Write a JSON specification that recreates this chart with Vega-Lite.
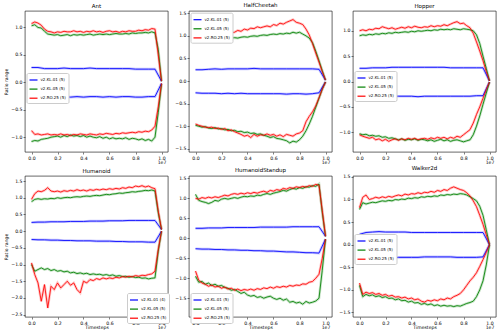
{
"$schema":"https://vega.github.io/schema/vega-lite/v6.json",
"background":"#ffffff",
"padding":{"left":3,"top":2,"right":2,"bottom":2},
"config":{
 "font":"DejaVu Sans",
 "view":{"stroke":"#000000","strokeWidth":0.6},
 "axis":{"labelFontSize":4.6,"labelFont":"DejaVu Sans","titleFont":"DejaVu Sans","titleFontSize":4.6,"titleFontWeight":"normal","tickSize":2,"tickWidth":0.5,"tickColor":"#000000","domain":false,"grid":false,"labelColor":"#000000","titleColor":"#000000","labelPadding":1,"titlePadding":2,"labelLineHeight":4.8},
 "legend":{"labelFontSize":4,"labelFont":"DejaVu Sans","labelColor":"#000000","symbolType":"stroke","symbolSize":64,"symbolStrokeWidth":1.2,"symbolOpacity":1,"rowPadding":1.1,"padding":2,"strokeColor":"#cccccc","fillColor":"#ffffff","cornerRadius":1.5,"labelOffset":2},
 "title":{"fontSize":5.5,"fontWeight":"normal","font":"DejaVu Sans","offset":2,"color":"#000000"},
 "line":{"interpolate":"linear"}
},
"datasets":{
"Ant":[
{"s":"KL.01","x":0,"u":0.27,"l":-0.27},{"s":"KL.01","x":0.05,"u":0.27,"l":-0.28},{"s":"KL.01","x":0.1,"u":0.25,"l":-0.27},{"s":"KL.01","x":0.15,"u":0.25,"l":-0.27},{"s":"KL.01","x":0.2,"u":0.25,"l":-0.27},{"s":"KL.01","x":0.25,"u":0.26,"l":-0.26},{"s":"KL.01","x":0.3,"u":0.25,"l":-0.27},{"s":"KL.01","x":0.35,"u":0.25,"l":-0.26},{"s":"KL.01","x":0.4,"u":0.25,"l":-0.27},{"s":"KL.01","x":0.45,"u":0.26,"l":-0.26},{"s":"KL.01","x":0.5,"u":0.25,"l":-0.26},{"s":"KL.01","x":0.55,"u":0.25,"l":-0.27},{"s":"KL.01","x":0.6,"u":0.25,"l":-0.26},{"s":"KL.01","x":0.65,"u":0.25,"l":-0.27},{"s":"KL.01","x":0.7,"u":0.25,"l":-0.26},{"s":"KL.01","x":0.75,"u":0.25,"l":-0.26},{"s":"KL.01","x":0.8,"u":0.24,"l":-0.27},{"s":"KL.01","x":0.85,"u":0.24,"l":-0.27},{"s":"KL.01","x":0.9,"u":0.24,"l":-0.26},{"s":"KL.01","x":0.95,"u":0.24,"l":-0.26},{"s":"KL.01","x":1,"u":0.02,"l":-0.02},
{"s":"KL.05","x":0,"u":1.03,"l":-1.08},{"s":"KL.05","x":0.025,"u":1.05,"l":-1.06},{"s":"KL.05","x":0.05,"u":1.0,"l":-1.07},{"s":"KL.05","x":0.075,"u":0.99,"l":-1.04},{"s":"KL.05","x":0.1,"u":0.93,"l":-1.03},{"s":"KL.05","x":0.125,"u":0.88,"l":-1.02},{"s":"KL.05","x":0.15,"u":0.87,"l":-1.0},{"s":"KL.05","x":0.175,"u":0.86,"l":-0.99},{"s":"KL.05","x":0.2,"u":0.87,"l":-0.98},{"s":"KL.05","x":0.225,"u":0.85,"l":-1.0},{"s":"KL.05","x":0.25,"u":0.86,"l":-0.97},{"s":"KL.05","x":0.275,"u":0.87,"l":-0.99},{"s":"KL.05","x":0.3,"u":0.85,"l":-0.96},{"s":"KL.05","x":0.325,"u":0.87,"l":-0.98},{"s":"KL.05","x":0.35,"u":0.86,"l":-0.97},{"s":"KL.05","x":0.375,"u":0.87,"l":-0.99},{"s":"KL.05","x":0.4,"u":0.86,"l":-0.97},{"s":"KL.05","x":0.425,"u":0.87,"l":-1.0},{"s":"KL.05","x":0.45,"u":0.88,"l":-0.98},{"s":"KL.05","x":0.475,"u":0.86,"l":-1.0},{"s":"KL.05","x":0.5,"u":0.87,"l":-1.01},{"s":"KL.05","x":0.525,"u":0.88,"l":-0.99},{"s":"KL.05","x":0.55,"u":0.87,"l":-1.02},{"s":"KL.05","x":0.575,"u":0.88,"l":-1.0},{"s":"KL.05","x":0.6,"u":0.87,"l":-1.03},{"s":"KL.05","x":0.625,"u":0.88,"l":-1.01},{"s":"KL.05","x":0.65,"u":0.89,"l":-1.03},{"s":"KL.05","x":0.675,"u":0.88,"l":-1.02},{"s":"KL.05","x":0.7,"u":0.88,"l":-1.03},{"s":"KL.05","x":0.725,"u":0.89,"l":-1.01},{"s":"KL.05","x":0.75,"u":0.88,"l":-1.04},{"s":"KL.05","x":0.775,"u":0.9,"l":-1.02},{"s":"KL.05","x":0.8,"u":0.89,"l":-1.03},{"s":"KL.05","x":0.825,"u":0.9,"l":-1.05},{"s":"KL.05","x":0.85,"u":0.9,"l":-1.03},{"s":"KL.05","x":0.875,"u":0.91,"l":-1.06},{"s":"KL.05","x":0.9,"u":0.9,"l":-1.04},{"s":"KL.05","x":0.925,"u":0.92,"l":-1.07},{"s":"KL.05","x":0.95,"u":0.9,"l":-1.0},{"s":"KL.05","x":0.975,"u":0.6,"l":-0.55},{"s":"KL.05","x":1,"u":0.02,"l":-0.03},
{"s":"RO.25","x":0,"u":1.07,"l":-0.88},{"s":"RO.25","x":0.025,"u":1.1,"l":-0.95},{"s":"RO.25","x":0.05,"u":1.08,"l":-0.94},{"s":"RO.25","x":0.075,"u":1.04,"l":-0.96},{"s":"RO.25","x":0.1,"u":0.97,"l":-0.95},{"s":"RO.25","x":0.125,"u":0.93,"l":-0.94},{"s":"RO.25","x":0.15,"u":0.92,"l":-0.96},{"s":"RO.25","x":0.175,"u":0.9,"l":-0.95},{"s":"RO.25","x":0.2,"u":0.92,"l":-0.96},{"s":"RO.25","x":0.225,"u":0.91,"l":-0.94},{"s":"RO.25","x":0.25,"u":0.93,"l":-0.96},{"s":"RO.25","x":0.275,"u":0.92,"l":-0.95},{"s":"RO.25","x":0.3,"u":0.92,"l":-0.97},{"s":"RO.25","x":0.325,"u":0.94,"l":-0.95},{"s":"RO.25","x":0.35,"u":0.92,"l":-0.96},{"s":"RO.25","x":0.375,"u":0.93,"l":-0.94},{"s":"RO.25","x":0.4,"u":0.91,"l":-0.95},{"s":"RO.25","x":0.425,"u":0.93,"l":-0.96},{"s":"RO.25","x":0.45,"u":0.92,"l":-0.94},{"s":"RO.25","x":0.475,"u":0.94,"l":-0.95},{"s":"RO.25","x":0.5,"u":0.92,"l":-0.96},{"s":"RO.25","x":0.525,"u":0.93,"l":-0.94},{"s":"RO.25","x":0.55,"u":0.91,"l":-0.95},{"s":"RO.25","x":0.575,"u":0.93,"l":-0.93},{"s":"RO.25","x":0.6,"u":0.94,"l":-0.94},{"s":"RO.25","x":0.625,"u":0.92,"l":-0.95},{"s":"RO.25","x":0.65,"u":0.93,"l":-0.93},{"s":"RO.25","x":0.675,"u":0.91,"l":-0.94},{"s":"RO.25","x":0.7,"u":0.93,"l":-0.92},{"s":"RO.25","x":0.725,"u":0.92,"l":-0.93},{"s":"RO.25","x":0.75,"u":0.94,"l":-0.92},{"s":"RO.25","x":0.775,"u":0.93,"l":-0.91},{"s":"RO.25","x":0.8,"u":0.93,"l":-0.92},{"s":"RO.25","x":0.825,"u":0.95,"l":-0.9},{"s":"RO.25","x":0.85,"u":0.94,"l":-0.91},{"s":"RO.25","x":0.875,"u":0.96,"l":-0.89},{"s":"RO.25","x":0.9,"u":0.95,"l":-0.9},{"s":"RO.25","x":0.925,"u":0.98,"l":-0.87},{"s":"RO.25","x":0.95,"u":0.97,"l":-0.8},{"s":"RO.25","x":0.975,"u":0.5,"l":-0.45},{"s":"RO.25","x":1,"u":0.02,"l":-0.02}
],
"HalfCheetah":[
{"s":"KL.01","x":0,"u":0.25,"l":-0.26},{"s":"KL.01","x":0.05,"u":0.25,"l":-0.27},{"s":"KL.01","x":0.1,"u":0.26,"l":-0.27},{"s":"KL.01","x":0.15,"u":0.27,"l":-0.27},{"s":"KL.01","x":0.2,"u":0.26,"l":-0.28},{"s":"KL.01","x":0.25,"u":0.27,"l":-0.27},{"s":"KL.01","x":0.3,"u":0.27,"l":-0.28},{"s":"KL.01","x":0.35,"u":0.27,"l":-0.27},{"s":"KL.01","x":0.4,"u":0.27,"l":-0.28},{"s":"KL.01","x":0.45,"u":0.28,"l":-0.28},{"s":"KL.01","x":0.5,"u":0.27,"l":-0.28},{"s":"KL.01","x":0.55,"u":0.27,"l":-0.28},{"s":"KL.01","x":0.6,"u":0.27,"l":-0.28},{"s":"KL.01","x":0.65,"u":0.27,"l":-0.28},{"s":"KL.01","x":0.7,"u":0.27,"l":-0.29},{"s":"KL.01","x":0.75,"u":0.27,"l":-0.28},{"s":"KL.01","x":0.8,"u":0.27,"l":-0.28},{"s":"KL.01","x":0.85,"u":0.27,"l":-0.29},{"s":"KL.01","x":0.9,"u":0.27,"l":-0.28},{"s":"KL.01","x":0.95,"u":0.26,"l":-0.26},{"s":"KL.01","x":1,"u":0.02,"l":-0.02},
{"s":"KL.05","x":0,"u":0.88,"l":-0.98},{"s":"KL.05","x":0.025,"u":0.89,"l":-1.0},{"s":"KL.05","x":0.05,"u":0.88,"l":-1.02},{"s":"KL.05","x":0.075,"u":0.9,"l":-1.01},{"s":"KL.05","x":0.1,"u":0.9,"l":-1.04},{"s":"KL.05","x":0.125,"u":0.91,"l":-1.05},{"s":"KL.05","x":0.15,"u":0.92,"l":-1.03},{"s":"KL.05","x":0.175,"u":0.91,"l":-1.06},{"s":"KL.05","x":0.2,"u":0.93,"l":-1.05},{"s":"KL.05","x":0.225,"u":0.94,"l":-1.08},{"s":"KL.05","x":0.25,"u":0.93,"l":-1.07},{"s":"KL.05","x":0.275,"u":0.95,"l":-1.1},{"s":"KL.05","x":0.3,"u":0.96,"l":-1.09},{"s":"KL.05","x":0.325,"u":0.95,"l":-1.12},{"s":"KL.05","x":0.35,"u":0.97,"l":-1.11},{"s":"KL.05","x":0.375,"u":0.98,"l":-1.14},{"s":"KL.05","x":0.4,"u":0.97,"l":-1.13},{"s":"KL.05","x":0.425,"u":0.99,"l":-1.16},{"s":"KL.05","x":0.45,"u":1.0,"l":-1.15},{"s":"KL.05","x":0.475,"u":0.99,"l":-1.18},{"s":"KL.05","x":0.5,"u":1.01,"l":-1.17},{"s":"KL.05","x":0.525,"u":1.02,"l":-1.2},{"s":"KL.05","x":0.55,"u":1.01,"l":-1.22},{"s":"KL.05","x":0.575,"u":1.03,"l":-1.25},{"s":"KL.05","x":0.6,"u":1.04,"l":-1.23},{"s":"KL.05","x":0.625,"u":1.03,"l":-1.27},{"s":"KL.05","x":0.65,"u":1.05,"l":-1.28},{"s":"KL.05","x":0.675,"u":1.04,"l":-1.3},{"s":"KL.05","x":0.7,"u":1.06,"l":-1.32},{"s":"KL.05","x":0.725,"u":1.05,"l":-1.37},{"s":"KL.05","x":0.75,"u":1.08,"l":-1.33},{"s":"KL.05","x":0.775,"u":1.06,"l":-1.35},{"s":"KL.05","x":0.8,"u":1.08,"l":-1.3},{"s":"KL.05","x":0.825,"u":1.04,"l":-1.22},{"s":"KL.05","x":0.85,"u":1.0,"l":-1.1},{"s":"KL.05","x":0.875,"u":0.95,"l":-0.95},{"s":"KL.05","x":0.9,"u":0.85,"l":-0.78},{"s":"KL.05","x":0.925,"u":0.66,"l":-0.58},{"s":"KL.05","x":0.95,"u":0.45,"l":-0.38},{"s":"KL.05","x":0.975,"u":0.23,"l":-0.18},{"s":"KL.05","x":1,"u":0.02,"l":-0.02},
{"s":"RO.25","x":0,"u":0.93,"l":-0.95},{"s":"RO.25","x":0.025,"u":0.92,"l":-0.98},{"s":"RO.25","x":0.05,"u":0.94,"l":-1.0},{"s":"RO.25","x":0.075,"u":0.93,"l":-1.02},{"s":"RO.25","x":0.1,"u":0.96,"l":-1.03},{"s":"RO.25","x":0.125,"u":0.95,"l":-1.02},{"s":"RO.25","x":0.15,"u":0.97,"l":-1.05},{"s":"RO.25","x":0.175,"u":0.99,"l":-1.04},{"s":"RO.25","x":0.2,"u":1.0,"l":-1.07},{"s":"RO.25","x":0.225,"u":1.03,"l":-1.05},{"s":"RO.25","x":0.25,"u":1.05,"l":-1.1},{"s":"RO.25","x":0.275,"u":1.07,"l":-1.08},{"s":"RO.25","x":0.3,"u":1.08,"l":-1.12},{"s":"RO.25","x":0.325,"u":1.12,"l":-1.15},{"s":"RO.25","x":0.35,"u":1.1,"l":-1.18},{"s":"RO.25","x":0.375,"u":1.15,"l":-1.22},{"s":"RO.25","x":0.4,"u":1.13,"l":-1.2},{"s":"RO.25","x":0.425,"u":1.17,"l":-1.25},{"s":"RO.25","x":0.45,"u":1.16,"l":-1.18},{"s":"RO.25","x":0.475,"u":1.2,"l":-1.22},{"s":"RO.25","x":0.5,"u":1.18,"l":-1.19},{"s":"RO.25","x":0.525,"u":1.2,"l":-1.2},{"s":"RO.25","x":0.55,"u":1.22,"l":-1.17},{"s":"RO.25","x":0.575,"u":1.2,"l":-1.2},{"s":"RO.25","x":0.6,"u":1.25,"l":-1.18},{"s":"RO.25","x":0.625,"u":1.23,"l":-1.22},{"s":"RO.25","x":0.65,"u":1.28,"l":-1.19},{"s":"RO.25","x":0.675,"u":1.26,"l":-1.23},{"s":"RO.25","x":0.7,"u":1.3,"l":-1.18},{"s":"RO.25","x":0.725,"u":1.33,"l":-1.2},{"s":"RO.25","x":0.75,"u":1.36,"l":-1.22},{"s":"RO.25","x":0.775,"u":1.3,"l":-1.17},{"s":"RO.25","x":0.8,"u":1.28,"l":-1.15},{"s":"RO.25","x":0.825,"u":1.25,"l":-1.1},{"s":"RO.25","x":0.85,"u":1.15,"l":-0.9},{"s":"RO.25","x":0.875,"u":1.02,"l":-0.78},{"s":"RO.25","x":0.9,"u":0.83,"l":-0.68},{"s":"RO.25","x":0.925,"u":0.62,"l":-0.55},{"s":"RO.25","x":0.95,"u":0.42,"l":-0.37},{"s":"RO.25","x":0.975,"u":0.21,"l":-0.18},{"s":"RO.25","x":1,"u":0.02,"l":-0.02}
],
"Hopper":[
{"s":"KL.01","x":0,"u":0.26,"l":-0.27},{"s":"KL.01","x":0.05,"u":0.26,"l":-0.28},{"s":"KL.01","x":0.1,"u":0.27,"l":-0.28},{"s":"KL.01","x":0.15,"u":0.27,"l":-0.28},{"s":"KL.01","x":0.2,"u":0.27,"l":-0.29},{"s":"KL.01","x":0.25,"u":0.28,"l":-0.29},{"s":"KL.01","x":0.3,"u":0.28,"l":-0.29},{"s":"KL.01","x":0.35,"u":0.28,"l":-0.29},{"s":"KL.01","x":0.4,"u":0.28,"l":-0.29},{"s":"KL.01","x":0.45,"u":0.28,"l":-0.3},{"s":"KL.01","x":0.5,"u":0.28,"l":-0.29},{"s":"KL.01","x":0.55,"u":0.28,"l":-0.29},{"s":"KL.01","x":0.6,"u":0.28,"l":-0.29},{"s":"KL.01","x":0.65,"u":0.28,"l":-0.29},{"s":"KL.01","x":0.7,"u":0.27,"l":-0.29},{"s":"KL.01","x":0.75,"u":0.27,"l":-0.29},{"s":"KL.01","x":0.8,"u":0.27,"l":-0.29},{"s":"KL.01","x":0.85,"u":0.27,"l":-0.29},{"s":"KL.01","x":0.9,"u":0.27,"l":-0.28},{"s":"KL.01","x":0.95,"u":0.27,"l":-0.28},{"s":"KL.01","x":1,"u":0.01,"l":-0.01},
{"s":"KL.05","x":0,"u":0.9,"l":-1.03},{"s":"KL.05","x":0.025,"u":0.92,"l":-1.05},{"s":"KL.05","x":0.05,"u":0.91,"l":-1.04},{"s":"KL.05","x":0.075,"u":0.93,"l":-1.07},{"s":"KL.05","x":0.1,"u":0.92,"l":-1.06},{"s":"KL.05","x":0.125,"u":0.94,"l":-1.08},{"s":"KL.05","x":0.15,"u":0.93,"l":-1.07},{"s":"KL.05","x":0.175,"u":0.95,"l":-1.1},{"s":"KL.05","x":0.2,"u":0.94,"l":-1.09},{"s":"KL.05","x":0.225,"u":0.96,"l":-1.12},{"s":"KL.05","x":0.25,"u":0.95,"l":-1.11},{"s":"KL.05","x":0.275,"u":0.97,"l":-1.13},{"s":"KL.05","x":0.3,"u":0.96,"l":-1.15},{"s":"KL.05","x":0.325,"u":0.97,"l":-1.13},{"s":"KL.05","x":0.35,"u":0.98,"l":-1.16},{"s":"KL.05","x":0.375,"u":0.97,"l":-1.14},{"s":"KL.05","x":0.4,"u":0.99,"l":-1.15},{"s":"KL.05","x":0.425,"u":0.98,"l":-1.13},{"s":"KL.05","x":0.45,"u":1.0,"l":-1.16},{"s":"KL.05","x":0.475,"u":0.99,"l":-1.14},{"s":"KL.05","x":0.5,"u":1.0,"l":-1.15},{"s":"KL.05","x":0.525,"u":1.01,"l":-1.17},{"s":"KL.05","x":0.55,"u":1.0,"l":-1.15},{"s":"KL.05","x":0.575,"u":1.02,"l":-1.18},{"s":"KL.05","x":0.6,"u":1.01,"l":-1.16},{"s":"KL.05","x":0.625,"u":1.03,"l":-1.14},{"s":"KL.05","x":0.65,"u":1.02,"l":-1.17},{"s":"KL.05","x":0.675,"u":1.03,"l":-1.15},{"s":"KL.05","x":0.7,"u":1.02,"l":-1.18},{"s":"KL.05","x":0.725,"u":1.04,"l":-1.16},{"s":"KL.05","x":0.75,"u":1.03,"l":-1.15},{"s":"KL.05","x":0.775,"u":1.02,"l":-1.17},{"s":"KL.05","x":0.8,"u":1.04,"l":-1.19},{"s":"KL.05","x":0.825,"u":1.03,"l":-1.17},{"s":"KL.05","x":0.85,"u":1.02,"l":-1.15},{"s":"KL.05","x":0.875,"u":1.0,"l":-1.05},{"s":"KL.05","x":0.9,"u":0.92,"l":-0.88},{"s":"KL.05","x":0.925,"u":0.75,"l":-0.68},{"s":"KL.05","x":0.95,"u":0.5,"l":-0.45},{"s":"KL.05","x":0.975,"u":0.26,"l":-0.23},{"s":"KL.05","x":1,"u":0.01,"l":-0.01},
{"s":"RO.25","x":0,"u":1.0,"l":-1.05},{"s":"RO.25","x":0.025,"u":1.02,"l":-1.08},{"s":"RO.25","x":0.05,"u":1.0,"l":-1.1},{"s":"RO.25","x":0.075,"u":1.03,"l":-1.12},{"s":"RO.25","x":0.1,"u":1.02,"l":-1.1},{"s":"RO.25","x":0.125,"u":1.05,"l":-1.15},{"s":"RO.25","x":0.15,"u":1.04,"l":-1.13},{"s":"RO.25","x":0.175,"u":1.08,"l":-1.17},{"s":"RO.25","x":0.2,"u":1.06,"l":-1.14},{"s":"RO.25","x":0.225,"u":1.04,"l":-1.18},{"s":"RO.25","x":0.25,"u":1.06,"l":-1.15},{"s":"RO.25","x":0.275,"u":1.03,"l":-1.13},{"s":"RO.25","x":0.3,"u":1.05,"l":-1.16},{"s":"RO.25","x":0.325,"u":1.07,"l":-1.13},{"s":"RO.25","x":0.35,"u":1.05,"l":-1.15},{"s":"RO.25","x":0.375,"u":1.08,"l":-1.12},{"s":"RO.25","x":0.4,"u":1.06,"l":-1.14},{"s":"RO.25","x":0.425,"u":1.09,"l":-1.12},{"s":"RO.25","x":0.45,"u":1.07,"l":-1.15},{"s":"RO.25","x":0.475,"u":1.06,"l":-1.13},{"s":"RO.25","x":0.5,"u":1.08,"l":-1.12},{"s":"RO.25","x":0.525,"u":1.07,"l":-1.14},{"s":"RO.25","x":0.55,"u":1.1,"l":-1.11},{"s":"RO.25","x":0.575,"u":1.08,"l":-1.13},{"s":"RO.25","x":0.6,"u":1.1,"l":-1.1},{"s":"RO.25","x":0.625,"u":1.09,"l":-1.12},{"s":"RO.25","x":0.65,"u":1.12,"l":-1.1},{"s":"RO.25","x":0.675,"u":1.1,"l":-1.13},{"s":"RO.25","x":0.7,"u":1.13,"l":-1.1},{"s":"RO.25","x":0.725,"u":1.16,"l":-1.12},{"s":"RO.25","x":0.75,"u":1.18,"l":-1.08},{"s":"RO.25","x":0.775,"u":1.14,"l":-1.1},{"s":"RO.25","x":0.8,"u":1.15,"l":-1.05},{"s":"RO.25","x":0.825,"u":1.1,"l":-1.0},{"s":"RO.25","x":0.85,"u":1.06,"l":-0.95},{"s":"RO.25","x":0.875,"u":0.95,"l":-0.82},{"s":"RO.25","x":0.9,"u":0.78,"l":-0.65},{"s":"RO.25","x":0.925,"u":0.6,"l":-0.5},{"s":"RO.25","x":0.95,"u":0.41,"l":-0.33},{"s":"RO.25","x":0.975,"u":0.2,"l":-0.16},{"s":"RO.25","x":1,"u":0.01,"l":-0.01}
],
"Humanoid":[
{"s":"KL.01","x":0,"u":0.26,"l":-0.25},{"s":"KL.01","x":0.05,"u":0.27,"l":-0.26},{"s":"KL.01","x":0.1,"u":0.27,"l":-0.26},{"s":"KL.01","x":0.15,"u":0.28,"l":-0.27},{"s":"KL.01","x":0.2,"u":0.28,"l":-0.27},{"s":"KL.01","x":0.25,"u":0.28,"l":-0.28},{"s":"KL.01","x":0.3,"u":0.29,"l":-0.28},{"s":"KL.01","x":0.35,"u":0.29,"l":-0.29},{"s":"KL.01","x":0.4,"u":0.29,"l":-0.29},{"s":"KL.01","x":0.45,"u":0.3,"l":-0.29},{"s":"KL.01","x":0.5,"u":0.3,"l":-0.3},{"s":"KL.01","x":0.55,"u":0.3,"l":-0.3},{"s":"KL.01","x":0.6,"u":0.31,"l":-0.3},{"s":"KL.01","x":0.65,"u":0.31,"l":-0.31},{"s":"KL.01","x":0.7,"u":0.31,"l":-0.31},{"s":"KL.01","x":0.75,"u":0.32,"l":-0.32},{"s":"KL.01","x":0.8,"u":0.32,"l":-0.32},{"s":"KL.01","x":0.85,"u":0.32,"l":-0.32},{"s":"KL.01","x":0.9,"u":0.32,"l":-0.33},{"s":"KL.01","x":0.95,"u":0.32,"l":-0.33},{"s":"KL.01","x":1,"u":0.05,"l":0.0},
{"s":"KL.05","x":0,"u":0.88,"l":-1.0},{"s":"KL.05","x":0.025,"u":0.95,"l":-1.2},{"s":"KL.05","x":0.05,"u":0.97,"l":-1.15},{"s":"KL.05","x":0.075,"u":0.95,"l":-1.1},{"s":"KL.05","x":0.1,"u":0.97,"l":-1.15},{"s":"KL.05","x":0.125,"u":0.96,"l":-1.12},{"s":"KL.05","x":0.15,"u":0.98,"l":-1.18},{"s":"KL.05","x":0.175,"u":0.97,"l":-1.15},{"s":"KL.05","x":0.2,"u":1.0,"l":-1.2},{"s":"KL.05","x":0.225,"u":0.98,"l":-1.18},{"s":"KL.05","x":0.25,"u":1.0,"l":-1.22},{"s":"KL.05","x":0.275,"u":1.01,"l":-1.2},{"s":"KL.05","x":0.3,"u":1.0,"l":-1.25},{"s":"KL.05","x":0.325,"u":1.02,"l":-1.23},{"s":"KL.05","x":0.35,"u":1.03,"l":-1.27},{"s":"KL.05","x":0.375,"u":1.02,"l":-1.25},{"s":"KL.05","x":0.4,"u":1.04,"l":-1.28},{"s":"KL.05","x":0.425,"u":1.05,"l":-1.26},{"s":"KL.05","x":0.45,"u":1.04,"l":-1.3},{"s":"KL.05","x":0.475,"u":1.06,"l":-1.28},{"s":"KL.05","x":0.5,"u":1.07,"l":-1.3},{"s":"KL.05","x":0.525,"u":1.06,"l":-1.29},{"s":"KL.05","x":0.55,"u":1.08,"l":-1.32},{"s":"KL.05","x":0.575,"u":1.1,"l":-1.3},{"s":"KL.05","x":0.6,"u":1.09,"l":-1.33},{"s":"KL.05","x":0.625,"u":1.11,"l":-1.31},{"s":"KL.05","x":0.65,"u":1.12,"l":-1.35},{"s":"KL.05","x":0.675,"u":1.14,"l":-1.33},{"s":"KL.05","x":0.7,"u":1.13,"l":-1.36},{"s":"KL.05","x":0.725,"u":1.15,"l":-1.35},{"s":"KL.05","x":0.75,"u":1.16,"l":-1.38},{"s":"KL.05","x":0.775,"u":1.18,"l":-1.36},{"s":"KL.05","x":0.8,"u":1.17,"l":-1.39},{"s":"KL.05","x":0.825,"u":1.19,"l":-1.38},{"s":"KL.05","x":0.85,"u":1.2,"l":-1.41},{"s":"KL.05","x":0.875,"u":1.22,"l":-1.4},{"s":"KL.05","x":0.9,"u":1.21,"l":-1.43},{"s":"KL.05","x":0.925,"u":1.23,"l":-1.41},{"s":"KL.05","x":0.95,"u":1.2,"l":-1.4},{"s":"KL.05","x":0.975,"u":0.55,"l":-0.6},{"s":"KL.05","x":1,"u":0.05,"l":0.0},
{"s":"RO.25","x":0,"u":0.95,"l":-0.95},{"s":"RO.25","x":0.025,"u":1.12,"l":-1.3},{"s":"RO.25","x":0.05,"u":1.2,"l":-1.55},{"s":"RO.25","x":0.075,"u":1.18,"l":-2.1},{"s":"RO.25","x":0.1,"u":1.22,"l":-1.6},{"s":"RO.25","x":0.125,"u":1.3,"l":-2.3},{"s":"RO.25","x":0.15,"u":1.2,"l":-1.65},{"s":"RO.25","x":0.175,"u":1.18,"l":-1.75},{"s":"RO.25","x":0.2,"u":1.2,"l":-1.55},{"s":"RO.25","x":0.225,"u":1.17,"l":-1.7},{"s":"RO.25","x":0.25,"u":1.21,"l":-1.6},{"s":"RO.25","x":0.275,"u":1.19,"l":-1.5},{"s":"RO.25","x":0.3,"u":1.22,"l":-1.62},{"s":"RO.25","x":0.325,"u":1.2,"l":-1.55},{"s":"RO.25","x":0.35,"u":1.24,"l":-1.75},{"s":"RO.25","x":0.375,"u":1.21,"l":-1.85},{"s":"RO.25","x":0.4,"u":1.23,"l":-1.5},{"s":"RO.25","x":0.425,"u":1.2,"l":-1.55},{"s":"RO.25","x":0.45,"u":1.24,"l":-1.45},{"s":"RO.25","x":0.475,"u":1.22,"l":-1.48},{"s":"RO.25","x":0.5,"u":1.25,"l":-1.42},{"s":"RO.25","x":0.525,"u":1.23,"l":-1.45},{"s":"RO.25","x":0.55,"u":1.26,"l":-1.4},{"s":"RO.25","x":0.575,"u":1.24,"l":-1.43},{"s":"RO.25","x":0.6,"u":1.27,"l":-1.4},{"s":"RO.25","x":0.625,"u":1.25,"l":-1.42},{"s":"RO.25","x":0.65,"u":1.28,"l":-1.38},{"s":"RO.25","x":0.675,"u":1.26,"l":-1.4},{"s":"RO.25","x":0.7,"u":1.3,"l":-1.36},{"s":"RO.25","x":0.725,"u":1.28,"l":-1.38},{"s":"RO.25","x":0.75,"u":1.32,"l":-1.35},{"s":"RO.25","x":0.775,"u":1.3,"l":-1.37},{"s":"RO.25","x":0.8,"u":1.35,"l":-1.33},{"s":"RO.25","x":0.825,"u":1.33,"l":-1.35},{"s":"RO.25","x":0.85,"u":1.36,"l":-1.32},{"s":"RO.25","x":0.875,"u":1.32,"l":-1.33},{"s":"RO.25","x":0.9,"u":1.35,"l":-1.3},{"s":"RO.25","x":0.925,"u":1.3,"l":-1.28},{"s":"RO.25","x":0.95,"u":1.27,"l":-1.2},{"s":"RO.25","x":0.975,"u":0.6,"l":-0.55},{"s":"RO.25","x":1,"u":0.05,"l":0.0}
],
"HumanoidStandup":[
{"s":"KL.01","x":0,"u":0.25,"l":-0.26},{"s":"KL.01","x":0.05,"u":0.25,"l":-0.27},{"s":"KL.01","x":0.1,"u":0.26,"l":-0.27},{"s":"KL.01","x":0.15,"u":0.26,"l":-0.28},{"s":"KL.01","x":0.2,"u":0.26,"l":-0.28},{"s":"KL.01","x":0.25,"u":0.27,"l":-0.29},{"s":"KL.01","x":0.3,"u":0.27,"l":-0.29},{"s":"KL.01","x":0.35,"u":0.27,"l":-0.3},{"s":"KL.01","x":0.4,"u":0.27,"l":-0.3},{"s":"KL.01","x":0.45,"u":0.27,"l":-0.31},{"s":"KL.01","x":0.5,"u":0.28,"l":-0.31},{"s":"KL.01","x":0.55,"u":0.28,"l":-0.32},{"s":"KL.01","x":0.6,"u":0.28,"l":-0.32},{"s":"KL.01","x":0.65,"u":0.28,"l":-0.33},{"s":"KL.01","x":0.7,"u":0.28,"l":-0.34},{"s":"KL.01","x":0.75,"u":0.29,"l":-0.34},{"s":"KL.01","x":0.8,"u":0.29,"l":-0.35},{"s":"KL.01","x":0.85,"u":0.29,"l":-0.36},{"s":"KL.01","x":0.9,"u":0.29,"l":-0.36},{"s":"KL.01","x":0.95,"u":0.29,"l":-0.37},{"s":"KL.01","x":1,"u":0.05,"l":-0.02},
{"s":"KL.05","x":0,"u":1.1,"l":-0.95},{"s":"KL.05","x":0.025,"u":0.95,"l":-1.1},{"s":"KL.05","x":0.05,"u":0.92,"l":-1.08},{"s":"KL.05","x":0.075,"u":0.9,"l":-1.15},{"s":"KL.05","x":0.1,"u":0.87,"l":-1.12},{"s":"KL.05","x":0.125,"u":0.9,"l":-1.18},{"s":"KL.05","x":0.15,"u":0.95,"l":-1.15},{"s":"KL.05","x":0.175,"u":0.93,"l":-1.2},{"s":"KL.05","x":0.2,"u":0.98,"l":-1.18},{"s":"KL.05","x":0.225,"u":1.0,"l":-1.23},{"s":"KL.05","x":0.25,"u":0.98,"l":-1.25},{"s":"KL.05","x":0.275,"u":1.0,"l":-1.3},{"s":"KL.05","x":0.3,"u":1.02,"l":-1.28},{"s":"KL.05","x":0.325,"u":1.0,"l":-1.33},{"s":"KL.05","x":0.35,"u":1.03,"l":-1.38},{"s":"KL.05","x":0.375,"u":1.05,"l":-1.35},{"s":"KL.05","x":0.4,"u":1.04,"l":-1.42},{"s":"KL.05","x":0.425,"u":1.06,"l":-1.45},{"s":"KL.05","x":0.45,"u":1.05,"l":-1.43},{"s":"KL.05","x":0.475,"u":1.08,"l":-1.48},{"s":"KL.05","x":0.5,"u":1.07,"l":-1.46},{"s":"KL.05","x":0.525,"u":1.1,"l":-1.5},{"s":"KL.05","x":0.55,"u":1.12,"l":-1.47},{"s":"KL.05","x":0.575,"u":1.1,"l":-1.45},{"s":"KL.05","x":0.6,"u":1.13,"l":-1.5},{"s":"KL.05","x":0.625,"u":1.15,"l":-1.53},{"s":"KL.05","x":0.65,"u":1.17,"l":-1.5},{"s":"KL.05","x":0.675,"u":1.2,"l":-1.55},{"s":"KL.05","x":0.7,"u":1.18,"l":-1.52},{"s":"KL.05","x":0.725,"u":1.22,"l":-1.6},{"s":"KL.05","x":0.75,"u":1.25,"l":-1.58},{"s":"KL.05","x":0.775,"u":1.23,"l":-1.62},{"s":"KL.05","x":0.8,"u":1.27,"l":-1.6},{"s":"KL.05","x":0.825,"u":1.25,"l":-1.65},{"s":"KL.05","x":0.85,"u":1.29,"l":-1.58},{"s":"KL.05","x":0.875,"u":1.28,"l":-1.62},{"s":"KL.05","x":0.9,"u":1.32,"l":-1.6},{"s":"KL.05","x":0.925,"u":1.3,"l":-1.57},{"s":"KL.05","x":0.95,"u":1.36,"l":-1.5},{"s":"KL.05","x":0.975,"u":0.65,"l":-0.8},{"s":"KL.05","x":1,"u":0.05,"l":-0.02},
{"s":"RO.25","x":0,"u":1.0,"l":-0.82},{"s":"RO.25","x":0.025,"u":0.98,"l":-1.05},{"s":"RO.25","x":0.05,"u":1.02,"l":-1.12},{"s":"RO.25","x":0.075,"u":1.0,"l":-1.15},{"s":"RO.25","x":0.1,"u":1.03,"l":-1.2},{"s":"RO.25","x":0.125,"u":1.01,"l":-1.17},{"s":"RO.25","x":0.15,"u":1.04,"l":-1.22},{"s":"RO.25","x":0.175,"u":1.02,"l":-1.2},{"s":"RO.25","x":0.2,"u":1.05,"l":-1.25},{"s":"RO.25","x":0.225,"u":1.08,"l":-1.22},{"s":"RO.25","x":0.25,"u":1.06,"l":-1.27},{"s":"RO.25","x":0.275,"u":1.1,"l":-1.25},{"s":"RO.25","x":0.3,"u":1.12,"l":-1.3},{"s":"RO.25","x":0.325,"u":1.1,"l":-1.27},{"s":"RO.25","x":0.35,"u":1.13,"l":-1.31},{"s":"RO.25","x":0.375,"u":1.11,"l":-1.28},{"s":"RO.25","x":0.4,"u":1.14,"l":-1.3},{"s":"RO.25","x":0.425,"u":1.12,"l":-1.27},{"s":"RO.25","x":0.45,"u":1.15,"l":-1.3},{"s":"RO.25","x":0.475,"u":1.13,"l":-1.26},{"s":"RO.25","x":0.5,"u":1.16,"l":-1.28},{"s":"RO.25","x":0.525,"u":1.18,"l":-1.24},{"s":"RO.25","x":0.55,"u":1.15,"l":-1.26},{"s":"RO.25","x":0.575,"u":1.2,"l":-1.22},{"s":"RO.25","x":0.6,"u":1.18,"l":-1.25},{"s":"RO.25","x":0.625,"u":1.22,"l":-1.21},{"s":"RO.25","x":0.65,"u":1.2,"l":-1.23},{"s":"RO.25","x":0.675,"u":1.25,"l":-1.2},{"s":"RO.25","x":0.7,"u":1.23,"l":-1.22},{"s":"RO.25","x":0.725,"u":1.27,"l":-1.18},{"s":"RO.25","x":0.75,"u":1.25,"l":-1.2},{"s":"RO.25","x":0.775,"u":1.29,"l":-1.17},{"s":"RO.25","x":0.8,"u":1.27,"l":-1.18},{"s":"RO.25","x":0.825,"u":1.3,"l":-1.14},{"s":"RO.25","x":0.85,"u":1.28,"l":-1.15},{"s":"RO.25","x":0.875,"u":1.32,"l":-1.1},{"s":"RO.25","x":0.9,"u":1.3,"l":-1.08},{"s":"RO.25","x":0.925,"u":1.35,"l":-1.0},{"s":"RO.25","x":0.95,"u":1.33,"l":-0.9},{"s":"RO.25","x":0.975,"u":0.7,"l":-0.5},{"s":"RO.25","x":1,"u":0.05,"l":-0.02}
],
"Walker2d":[
{"s":"KL.01","x":0,"u":0.23,"l":-0.23},{"s":"KL.01","x":0.05,"u":0.27,"l":-0.28},{"s":"KL.01","x":0.1,"u":0.28,"l":-0.3},{"s":"KL.01","x":0.15,"u":0.29,"l":-0.3},{"s":"KL.01","x":0.2,"u":0.28,"l":-0.29},{"s":"KL.01","x":0.25,"u":0.28,"l":-0.29},{"s":"KL.01","x":0.3,"u":0.28,"l":-0.28},{"s":"KL.01","x":0.35,"u":0.28,"l":-0.28},{"s":"KL.01","x":0.4,"u":0.27,"l":-0.28},{"s":"KL.01","x":0.45,"u":0.27,"l":-0.28},{"s":"KL.01","x":0.5,"u":0.27,"l":-0.27},{"s":"KL.01","x":0.55,"u":0.27,"l":-0.27},{"s":"KL.01","x":0.6,"u":0.27,"l":-0.27},{"s":"KL.01","x":0.65,"u":0.27,"l":-0.27},{"s":"KL.01","x":0.7,"u":0.27,"l":-0.27},{"s":"KL.01","x":0.75,"u":0.27,"l":-0.28},{"s":"KL.01","x":0.8,"u":0.27,"l":-0.28},{"s":"KL.01","x":0.85,"u":0.27,"l":-0.28},{"s":"KL.01","x":0.9,"u":0.27,"l":-0.28},{"s":"KL.01","x":0.95,"u":0.27,"l":-0.27},{"s":"KL.01","x":1,"u":0.0,"l":0.0},
{"s":"KL.05","x":0,"u":0.78,"l":-0.9},{"s":"KL.05","x":0.025,"u":0.93,"l":-1.15},{"s":"KL.05","x":0.05,"u":0.9,"l":-1.1},{"s":"KL.05","x":0.075,"u":0.92,"l":-1.13},{"s":"KL.05","x":0.1,"u":0.94,"l":-1.11},{"s":"KL.05","x":0.125,"u":0.93,"l":-1.15},{"s":"KL.05","x":0.15,"u":0.95,"l":-1.13},{"s":"KL.05","x":0.175,"u":0.97,"l":-1.17},{"s":"KL.05","x":0.2,"u":0.96,"l":-1.15},{"s":"KL.05","x":0.225,"u":0.98,"l":-1.19},{"s":"KL.05","x":0.25,"u":0.97,"l":-1.18},{"s":"KL.05","x":0.275,"u":1.0,"l":-1.22},{"s":"KL.05","x":0.3,"u":0.99,"l":-1.2},{"s":"KL.05","x":0.325,"u":1.01,"l":-1.24},{"s":"KL.05","x":0.35,"u":1.0,"l":-1.23},{"s":"KL.05","x":0.375,"u":1.03,"l":-1.27},{"s":"KL.05","x":0.4,"u":1.02,"l":-1.25},{"s":"KL.05","x":0.425,"u":1.04,"l":-1.29},{"s":"KL.05","x":0.45,"u":1.03,"l":-1.28},{"s":"KL.05","x":0.475,"u":1.06,"l":-1.32},{"s":"KL.05","x":0.5,"u":1.05,"l":-1.3},{"s":"KL.05","x":0.525,"u":1.07,"l":-1.33},{"s":"KL.05","x":0.55,"u":1.06,"l":-1.31},{"s":"KL.05","x":0.575,"u":1.08,"l":-1.35},{"s":"KL.05","x":0.6,"u":1.07,"l":-1.33},{"s":"KL.05","x":0.625,"u":1.1,"l":-1.36},{"s":"KL.05","x":0.65,"u":1.09,"l":-1.34},{"s":"KL.05","x":0.675,"u":1.11,"l":-1.36},{"s":"KL.05","x":0.7,"u":1.1,"l":-1.35},{"s":"KL.05","x":0.725,"u":1.12,"l":-1.37},{"s":"KL.05","x":0.75,"u":1.11,"l":-1.35},{"s":"KL.05","x":0.775,"u":1.13,"l":-1.36},{"s":"KL.05","x":0.8,"u":1.12,"l":-1.33},{"s":"KL.05","x":0.825,"u":1.1,"l":-1.3},{"s":"KL.05","x":0.85,"u":1.06,"l":-1.28},{"s":"KL.05","x":0.875,"u":1.02,"l":-1.25},{"s":"KL.05","x":0.9,"u":0.97,"l":-1.15},{"s":"KL.05","x":0.925,"u":0.85,"l":-1.0},{"s":"KL.05","x":0.95,"u":0.65,"l":-0.8},{"s":"KL.05","x":0.975,"u":0.33,"l":-0.45},{"s":"KL.05","x":1,"u":0.0,"l":0.0},
{"s":"RO.25","x":0,"u":0.82,"l":-0.85},{"s":"RO.25","x":0.025,"u":1.05,"l":-1.1},{"s":"RO.25","x":0.05,"u":1.1,"l":-1.05},{"s":"RO.25","x":0.075,"u":1.0,"l":-1.08},{"s":"RO.25","x":0.1,"u":1.02,"l":-1.06},{"s":"RO.25","x":0.125,"u":1.05,"l":-1.1},{"s":"RO.25","x":0.15,"u":1.03,"l":-1.08},{"s":"RO.25","x":0.175,"u":1.06,"l":-1.12},{"s":"RO.25","x":0.2,"u":1.04,"l":-1.1},{"s":"RO.25","x":0.225,"u":1.07,"l":-1.14},{"s":"RO.25","x":0.25,"u":1.05,"l":-1.12},{"s":"RO.25","x":0.275,"u":1.08,"l":-1.16},{"s":"RO.25","x":0.3,"u":1.1,"l":-1.15},{"s":"RO.25","x":0.325,"u":1.08,"l":-1.18},{"s":"RO.25","x":0.35,"u":1.12,"l":-1.16},{"s":"RO.25","x":0.375,"u":1.1,"l":-1.2},{"s":"RO.25","x":0.4,"u":1.13,"l":-1.18},{"s":"RO.25","x":0.425,"u":1.12,"l":-1.22},{"s":"RO.25","x":0.45,"u":1.15,"l":-1.2},{"s":"RO.25","x":0.475,"u":1.13,"l":-1.25},{"s":"RO.25","x":0.5,"u":1.16,"l":-1.27},{"s":"RO.25","x":0.525,"u":1.15,"l":-1.23},{"s":"RO.25","x":0.55,"u":1.18,"l":-1.25},{"s":"RO.25","x":0.575,"u":1.16,"l":-1.22},{"s":"RO.25","x":0.6,"u":1.2,"l":-1.24},{"s":"RO.25","x":0.625,"u":1.18,"l":-1.2},{"s":"RO.25","x":0.65,"u":1.22,"l":-1.22},{"s":"RO.25","x":0.675,"u":1.2,"l":-1.18},{"s":"RO.25","x":0.7,"u":1.25,"l":-1.2},{"s":"RO.25","x":0.725,"u":1.28,"l":-1.15},{"s":"RO.25","x":0.75,"u":1.25,"l":-1.12},{"s":"RO.25","x":0.775,"u":1.22,"l":-1.08},{"s":"RO.25","x":0.8,"u":1.2,"l":-1.0},{"s":"RO.25","x":0.825,"u":1.15,"l":-0.9},{"s":"RO.25","x":0.85,"u":1.08,"l":-0.8},{"s":"RO.25","x":0.875,"u":0.97,"l":-0.72},{"s":"RO.25","x":0.9,"u":0.84,"l":-0.62},{"s":"RO.25","x":0.925,"u":0.65,"l":-0.48},{"s":"RO.25","x":0.95,"u":0.45,"l":-0.33},{"s":"RO.25","x":0.975,"u":0.22,"l":-0.17},{"s":"RO.25","x":1,"u":0.0,"l":0.0}
]
},
"columns":3,
"spacing":{"row":24,"column":21},
"bounds":"flush",
"resolve":{"scale":{"color":"independent","x":"independent","y":"independent"},"legend":{"color":"independent"},"axis":{"x":"independent","y":"independent"}},
"concat":[
 {"title":"Ant","width":143,"height":141,"data":{"name":"Ant"},
  "transform":[{"fold":["u","l"],"as":["b","y"]}],
  "encoding":{
   "x":{"field":"x","type":"quantitative","scale":{"domain":[-0.05,1.05],"nice":false},"axis":{"values":[0,0.2,0.4,0.6,0.8,1],"labelExpr":"datum.value == 1 ? ['1.0','1e7'] : format(datum.value,'.1f')","title":null}},
   "y":{"field":"y","type":"quantitative","scale":{"domain":[-1.27,1.3],"nice":false,"zero":false},"axis":{"values":[-1,-0.5,0,0.5,1],"format":".1f","title":"Ratio range"}},
   "color":{"field":"s","type":"nominal","scale":{"domain":["KL.01","KL.05","RO.25"],"range":["#0000ff","#008000","#ff0000"]},"legend":{"title":null,"orient":"none","legendX":1.5,"legendY":62,"labelExpr":"'v2.' + datum.label + ' (5)'"}},
   "detail":{"field":"b","type":"nominal"}
  },
  "layer":[{"mark":{"type":"line","strokeWidth":2.6,"opacity":0.22}},{"mark":{"type":"line","strokeWidth":0.85}}]
 },
 {"title":"HalfCheetah","width":143,"height":141,"data":{"name":"HalfCheetah"},
  "transform":[{"fold":["u","l"],"as":["b","y"]}],
  "encoding":{
   "x":{"field":"x","type":"quantitative","scale":{"domain":[-0.05,1.05],"nice":false},"axis":{"values":[0,0.2,0.4,0.6,0.8,1],"labelExpr":"datum.value == 1 ? ['1.0','1e7'] : format(datum.value,'.1f')","title":null}},
   "y":{"field":"y","type":"quantitative","scale":{"domain":[-1.57,1.55],"nice":false,"zero":false},"axis":{"values":[-1.5,-1,-0.5,0,0.5,1,1.5],"format":".1f","title":null}},
   "color":{"field":"s","type":"nominal","scale":{"domain":["KL.01","KL.05","RO.25"],"range":["#0000ff","#008000","#ff0000"]},"legend":{"title":null,"orient":"none","legendX":1.5,"legendY":1.7,"labelExpr":"'v2.' + datum.label + ' (5)'"}},
   "detail":{"field":"b","type":"nominal"}
  },
  "layer":[{"mark":{"type":"line","strokeWidth":2.6,"opacity":0.22}},{"mark":{"type":"line","strokeWidth":0.85}}]
 },
 {"title":"Hopper","width":143,"height":141,"data":{"name":"Hopper"},
  "transform":[{"fold":["u","l"],"as":["b","y"]}],
  "encoding":{
   "x":{"field":"x","type":"quantitative","scale":{"domain":[-0.05,1.05],"nice":false},"axis":{"values":[0,0.2,0.4,0.6,0.8,1],"labelExpr":"datum.value == 1 ? ['1.0','1e7'] : format(datum.value,'.1f')","title":null}},
   "y":{"field":"y","type":"quantitative","scale":{"domain":[-1.39,1.39],"nice":false,"zero":false},"axis":{"values":[-1,-0.5,0,0.5,1],"format":".1f","title":null}},
   "color":{"field":"s","type":"nominal","scale":{"domain":["KL.01","KL.05","RO.25"],"range":["#0000ff","#008000","#ff0000"]},"legend":{"title":null,"orient":"none","legendX":1.5,"legendY":60,"labelExpr":"'v2.' + datum.label + ' (5)'"}},
   "detail":{"field":"b","type":"nominal"}
  },
  "layer":[{"mark":{"type":"line","strokeWidth":2.6,"opacity":0.22}},{"mark":{"type":"line","strokeWidth":0.85}}]
 },
 {"title":"Humanoid","width":143,"height":141,"data":{"name":"Humanoid"},
  "transform":[{"fold":["u","l"],"as":["b","y"]}],
  "encoding":{
   "x":{"field":"x","type":"quantitative","scale":{"domain":[-0.05,1.05],"nice":false},"axis":{"values":[0,0.2,0.4,0.6,0.8,1],"labelExpr":"datum.value == 1 ? ['1.0','1e7'] : format(datum.value,'.1f')","title":"Timesteps","titleY":7.3,"titleBaseline":"top"}},
   "y":{"field":"y","type":"quantitative","scale":{"domain":[-2.57,1.65],"nice":false,"zero":false},"axis":{"values":[-2.5,-2,-1.5,-1,-0.5,0,0.5,1,1.5],"format":".1f","title":"Ratio range"}},
   "color":{"field":"s","type":"nominal","scale":{"domain":["KL.01","KL.05","RO.25"],"range":["#0000ff","#008000","#ff0000"]},"legend":{"title":null,"orient":"none","legendX":102,"legendY":117,"labelExpr":"datum.label == 'KL.01' ? 'v2.KL.01 (4)' : 'v2.' + datum.label + ' (5)'"}},
   "detail":{"field":"b","type":"nominal"}
  },
  "layer":[{"mark":{"type":"line","strokeWidth":2.6,"opacity":0.22}},{"mark":{"type":"line","strokeWidth":0.85}}]
 },
 {"title":"HumanoidStandup","width":143,"height":141,"data":{"name":"HumanoidStandup"},
  "transform":[{"fold":["u","l"],"as":["b","y"]}],
  "encoding":{
   "x":{"field":"x","type":"quantitative","scale":{"domain":[-0.05,1.05],"nice":false},"axis":{"values":[0,0.2,0.4,0.6,0.8,1],"labelExpr":"datum.value == 1 ? ['1.0','1e7'] : format(datum.value,'.1f')","title":"Timesteps","titleY":7.3,"titleBaseline":"top"}},
   "y":{"field":"y","type":"quantitative","scale":{"domain":[-1.97,1.56],"nice":false,"zero":false},"axis":{"values":[-1.5,-1,-0.5,0,0.5,1,1.5],"format":".1f","title":null}},
   "color":{"field":"s","type":"nominal","scale":{"domain":["KL.01","KL.05","RO.25"],"range":["#0000ff","#008000","#ff0000"]},"legend":{"title":null,"orient":"none","legendX":1.5,"legendY":117,"labelExpr":"'v2.' + datum.label + ' (5)'"}},
   "detail":{"field":"b","type":"nominal"}
  },
  "layer":[{"mark":{"type":"line","strokeWidth":2.6,"opacity":0.22}},{"mark":{"type":"line","strokeWidth":0.85}}]
 },
 {"title":"Walker2d","width":143,"height":141,"data":{"name":"Walker2d"},
  "transform":[{"fold":["u","l"],"as":["b","y"]}],
  "encoding":{
   "x":{"field":"x","type":"quantitative","scale":{"domain":[-0.05,1.05],"nice":false},"axis":{"values":[0,0.2,0.4,0.6,0.8,1],"labelExpr":"datum.value == 1 ? ['1.0','1e7'] : format(datum.value,'.1f')","title":"Timesteps","titleY":7.3,"titleBaseline":"top"}},
   "y":{"field":"y","type":"quantitative","scale":{"domain":[-1.6,1.52],"nice":false,"zero":false},"axis":{"values":[-1.5,-1,-0.5,0,0.5,1,1.5],"format":".1f","title":null}},
   "color":{"field":"s","type":"nominal","scale":{"domain":["KL.01","KL.05","RO.25"],"range":["#0000ff","#008000","#ff0000"]},"legend":{"title":null,"orient":"none","legendX":1.5,"legendY":58,"labelExpr":"'v2.' + datum.label + ' (5)'"}},
   "detail":{"field":"b","type":"nominal"}
  },
  "layer":[{"mark":{"type":"line","strokeWidth":2.6,"opacity":0.22}},{"mark":{"type":"line","strokeWidth":0.85}}]
 }
]
}
